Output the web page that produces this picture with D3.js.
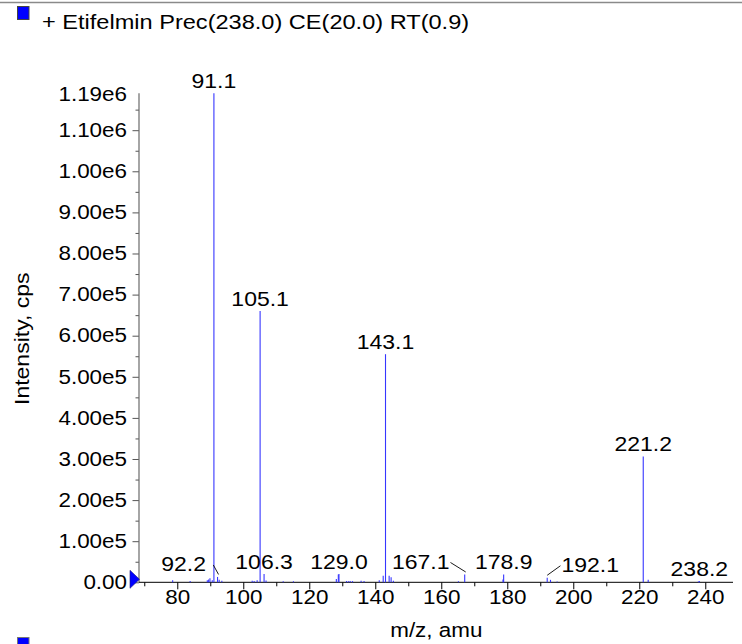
<!DOCTYPE html>
<html>
<head>
<meta charset="utf-8">
<script src="https://cdn.jsdelivr.net/npm/d3@7"></script>
<style>
  html, body { margin: 0; padding: 0; background: #fff; overflow: hidden; }
  svg { display: block; font-family: "Liberation Sans", Arial, Helvetica, sans-serif; }
</style>
</head>
<body>
<div id="chart"></div>
<script>
// ---------- data ----------
const titleText = "+ Etifelmin Prec(238.0) CE(20.0) RT(0.9)";
const xLabel = "m/z, amu";
const yLabel = "Intensity, cps";

const peakMz = [
  78.6, 83.9, 89.1, 89.5, 89.9, 90.6, 91.1, 92.2, 92.7, 93.5,
  102.7, 103.3, 104.2, 105.1, 106.3, 106.9, 112.1, 115.2,
  128.2, 128.8, 129.0, 131.3, 131.9, 132.4, 133.1, 135.7, 136.6,
  141.2, 142.4, 143.1, 144.2, 144.8, 145.5,
  165.2, 167.1, 178.7, 178.9, 192.1, 193.1, 195.1,
  221.2, 222.7, 237.9, 238.2
];
const peakIntensity = [
  5000, 3000, 5000, 7000, 10000, 5000, 1190000, 13000, 6000, 4000,
  3500, 3000, 5000, 660000, 20000, 4500, 2500, 2500,
  8000, 19000, 20000, 3000, 2500, 3000, 3000, 4000, 3000,
  5000, 16000, 555000, 16000, 12000, 4000,
  2500, 19000, 7000, 19000, 11000, 6000, 2000,
  306000, 6000, 2000, 3000
];
const peakLabels = ["91.1", "92.2", "105.1", "106.3", "129.0", "143.1", "167.1", "178.9", "192.1", "221.2", "238.2"];

const xMajorTicks = [80, 100, 120, 140, 160, 180, 200, 220, 240];
const xMinorTicks = [70, 90, 110, 130, 150, 170, 190, 210, 230];
const yMajorTicks = [0, 100000, 200000, 300000, 400000, 500000, 600000, 700000, 800000, 900000, 1000000, 1100000];
const yTickLabels = ["0.00", "1.00e5", "2.00e5", "3.00e5", "4.00e5", "5.00e5", "6.00e5", "7.00e5", "8.00e5", "9.00e5", "1.00e6", "1.10e6"];
const yMinorTicks = [50000, 150000, 250000, 350000, 450000, 550000, 650000, 750000, 850000, 950000, 1050000, 1150000];
const yMax = 1190000;
const yMaxLabel = "1.19e6";

// ---------- layout ----------
const W = 742, H = 644;
const plot = { left: 139, right: 733, top: 93.2, bottom: 582.3 };
const SX = 1.15;          // horizontal glyph stretch of chart text
const peakColor = "#3636ff";

// label layout tweaks (offsets for labels with leader lines)
const leaderOffsets = { "92.2": -34, "167.1": -44, "192.1": 43 };

const svg = d3.select("#chart").append("svg")
  .attr("width", W).attr("height", H);

const x = d3.scaleLinear().domain([68.4, 248.4]).range([plot.left, plot.right]);
const y = d3.scaleLinear().domain([0, yMax]).range([plot.bottom, plot.top]);

// top separator line
svg.append("line")
  .attr("x1", 0).attr("x2", W).attr("y1", 2.5).attr("y2", 2.5)
  .attr("stroke", "#8a8a8a").attr("stroke-width", 1.5);

// title legend box + text
svg.append("rect").attr("x", 17.5).attr("y", 6.5).attr("width", 11.5).attr("height", 13)
  .attr("fill", "#0000ff").attr("stroke", "#444").attr("stroke-width", 1);
svg.append("text")
  .attr("transform", `translate(42,29) scale(${SX},1)`)
  .attr("font-size", 20.5).attr("fill", "#000")
  .text(titleText);

// next panel legend box, partially visible
svg.append("rect").attr("x", 17.5).attr("y", 637.5).attr("width", 11.5).attr("height", 13)
  .attr("fill", "#0000ff").attr("stroke", "#777").attr("stroke-width", 1);

// ---------- axes ----------
const yAxisG = svg.append("g").attr("transform", `translate(${plot.left},0)`);
yAxisG.call(d3.axisLeft(y).tickValues(yMajorTicks).tickSize(6.5).tickPadding(0)
  .tickFormat((d, i) => yTickLabels[i]));
yAxisG.select(".domain").remove();
yAxisG.selectAll(".tick line").attr("stroke", "#555");
yAxisG.selectAll(".tick text")
  .attr("font-size", 19.5).attr("font-family", null).attr("fill", "#000")
  .attr("x", -12 / SX)
  .attr("transform", `scale(${SX},1)`);

const yMinorG = svg.append("g").attr("transform", `translate(${plot.left},0)`);
yMinorG.call(d3.axisLeft(y).tickValues(yMinorTicks).tickSize(3.5).tickFormat(""));
yMinorG.select(".domain").remove();
yMinorG.selectAll(".tick line").attr("stroke", "#555");

// top value label
svg.append("text")
  .attr("transform", `translate(${plot.left - 12},${y(yMax) + 2}) scale(${SX},1)`)
  .attr("text-anchor", "end").attr("dy", "0.32em")
  .attr("font-size", 19.5).attr("fill", "#000")
  .text(yMaxLabel);

// y axis line
svg.append("line")
  .attr("x1", plot.left).attr("x2", plot.left)
  .attr("y1", y(yMax)).attr("y2", plot.bottom)
  .attr("stroke", "#6a6a6a").attr("stroke-width", 1.2);

const xAxisG = svg.append("g").attr("transform", `translate(0,${plot.bottom})`);
xAxisG.call(d3.axisBottom(x).tickValues(xMajorTicks).tickSize(7).tickPadding(1)
  .tickFormat(d3.format("d")));
xAxisG.select(".domain").remove();
xAxisG.selectAll(".tick line").attr("stroke", "#000");
xAxisG.selectAll(".tick text")
  .attr("font-size", 19.5).attr("font-family", null).attr("fill", "#000")
  .attr("transform", `scale(${SX},1)`);

const xMinorG = svg.append("g").attr("transform", `translate(0,${plot.bottom})`);
xMinorG.call(d3.axisBottom(x).tickValues(xMinorTicks).tickSize(4).tickFormat(""));
xMinorG.select(".domain").remove();
xMinorG.selectAll(".tick line").attr("stroke", "#000");

svg.append("line")
  .attr("x1", plot.left).attr("x2", plot.right)
  .attr("y1", plot.bottom).attr("y2", plot.bottom)
  .attr("stroke", "#000").attr("stroke-width", 1);

// axis titles
svg.append("text")
  .attr("transform", `translate(${(x(xMajorTicks[4]) + x(xMajorTicks[5])) / 2 - 38},637) scale(${SX},1)`)
  .attr("text-anchor", "middle").attr("font-size", 19.5).attr("fill", "#000")
  .text(xLabel);
svg.append("text")
  .attr("transform", `translate(29,${(plot.top + plot.bottom) / 2 + 1}) rotate(-90) scale(1.18,1)`)
  .attr("text-anchor", "middle").attr("font-size", 19.5).attr("fill", "#000")
  .text(yLabel);

// ---------- peaks ----------
const peaks = peakMz.map((m, i) => ({ mz: m, v: peakIntensity[i] }));
svg.append("g").selectAll("line").data(peaks).join("line")
  .attr("x1", d => x(d.mz)).attr("x2", d => x(d.mz))
  .attr("y1", y(0)).attr("y2", d => y(d.v))
  .attr("stroke", peakColor).attr("stroke-width", 1.1);

// origin marker
svg.append("path")
  .attr("d", `M${plot.left - 9},${plot.bottom - 12} L${plot.left - 9},${plot.bottom + 6} L${plot.left + 0.5},${plot.bottom - 3} Z`)
  .attr("fill", "#0000ff").attr("stroke", "#1a1a80").attr("stroke-width", 0.6);

// ---------- peak labels ----------
const lab = svg.append("g");
peakLabels.forEach(t => {
  const p = peaks.find(d => d.mz === +t);
  const px = x(p.mz), py = y(p.v);
  const off = leaderOffsets[t];
  const tx = off === undefined ? px : px + off;
  const ty = py - 5.5;
  lab.append("text")
    .attr("transform", `translate(${tx},${ty}) scale(${SX},1)`)
    .attr("text-anchor", "middle").attr("font-size", 20).attr("fill", "#000")
    .text(t);
  if (off !== undefined) {
    const halfW = 2.502 * 20 * SX / 2;
    const ex = off < 0 ? tx + halfW + 1 : tx - halfW - 1;
    lab.append("line")
      .attr("x1", px + (off < 0 ? 1 : 0)).attr("y1", py - 2.5)
      .attr("x2", ex).attr("y2", ty - 6.5)
      .attr("stroke", "#000").attr("stroke-width", 0.9);
  }
});
</script>
</body>
</html>
